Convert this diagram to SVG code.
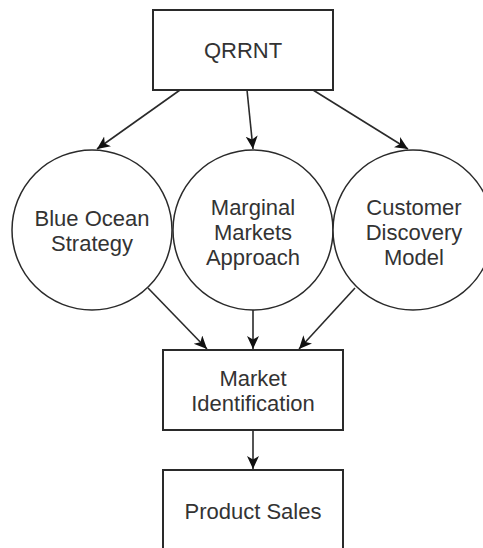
<svg xmlns="http://www.w3.org/2000/svg" width="483" height="548" viewBox="0 0 483 548">
<style>
.box{fill:#fff;stroke:#2a2a2a;stroke-width:2}
.circ{fill:#fff;stroke:#2a2a2a;stroke-width:1.5}
.lbl{font-family:"Liberation Sans",Arial,sans-serif;font-size:22px;fill:#333;text-anchor:middle;dominant-baseline:central}
.edge{fill:none;stroke:#2a2a2a;stroke-width:1.6;marker-end:url(#arr)}
</style>
<defs>
<marker id="arr" markerUnits="userSpaceOnUse" markerWidth="15" markerHeight="13" refX="13" refY="6" orient="auto" viewBox="0 0 15 13">
<path d="M0,0 L13,6 L0,12 L3.5,6 Z" fill="#111"/>
</marker>
</defs>
<rect width="483" height="548" fill="#fff"/>
<g id="connectors">
<line class="edge" x1="180" y1="90" x2="97" y2="149"/>
<line class="edge" x1="247" y1="90" x2="253" y2="149"/>
<line class="edge" x1="313" y1="90" x2="408" y2="149"/>
<line class="edge" x1="148" y1="288" x2="207" y2="349"/>
<line class="edge" x1="253" y1="310" x2="253" y2="349"/>
<line class="edge" x1="355" y1="288" x2="299" y2="349"/>
<line class="edge" x1="253" y1="430" x2="253" y2="469"/>
</g>
<g id="qrrnt">
<rect class="box" x="153" y="10" width="180" height="80"/>
<text class="lbl" x="243" y="50">QRRNT</text>
</g>
<g id="blue-ocean">
<circle class="circ" cx="92" cy="230" r="80"/>
<text class="lbl" x="92" y="218">Blue Ocean</text>
<text class="lbl" x="92" y="243">Strategy</text>
</g>
<g id="marginal">
<circle class="circ" cx="253" cy="230" r="80"/>
<text class="lbl" x="253" y="207">Marginal</text>
<text class="lbl" x="253" y="232">Markets</text>
<text class="lbl" x="253" y="257">Approach</text>
</g>
<g id="customer">
<circle class="circ" cx="413" cy="230" r="80"/>
<text class="lbl" x="414" y="207">Customer</text>
<text class="lbl" x="414" y="232">Discovery</text>
<text class="lbl" x="414" y="257">Model</text>
</g>
<g id="market-id">
<rect class="box" x="163" y="350" width="180" height="80"/>
<text class="lbl" x="253" y="378">Market</text>
<text class="lbl" x="253" y="403">Identification</text>
</g>
<g id="product-sales">
<rect class="box" x="163" y="470" width="180" height="80"/>
<text class="lbl" x="253" y="511">Product Sales</text>
</g>
</svg>
